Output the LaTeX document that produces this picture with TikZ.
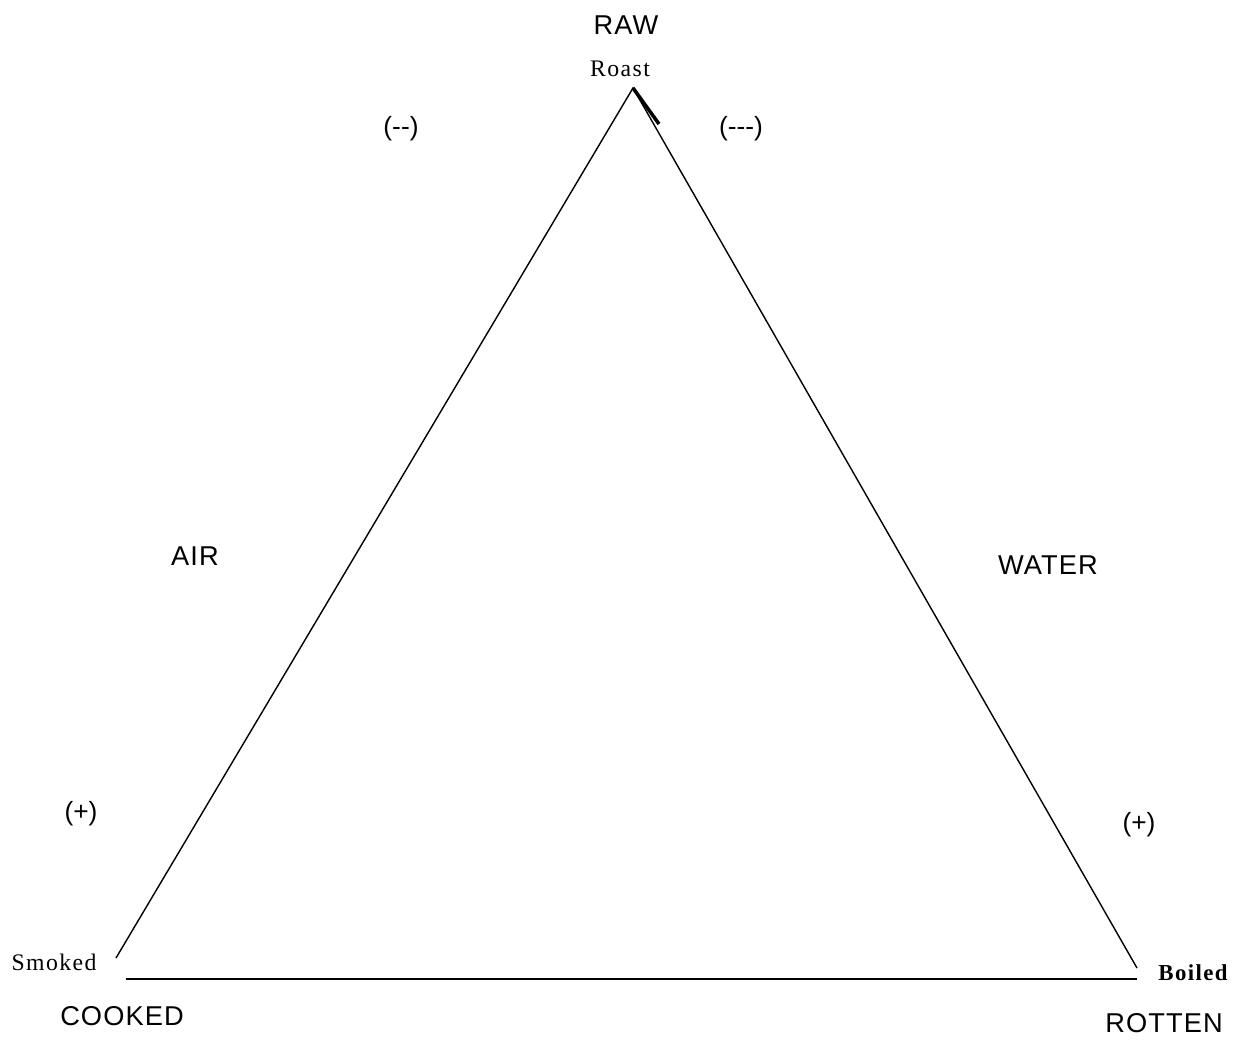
\documentclass[tikz,border=0pt]{standalone}
\usepackage{fontspec}
\newfontfamily\lsans[LetterSpace=4]{Liberation Sans}
\newfontfamily\lsign{Liberation Sans}
\newfontfamily\lserif[LetterSpace=6]{Liberation Serif}
\begin{document}
\begin{tikzpicture}[x=0.02cm,y=-0.02cm,
  big/.style={font=\lsans\fontsize{15.5}{17}\selectfont, inner sep=0pt},
  small/.style={font=\lserif\fontsize{13.5}{15}\selectfont, inner sep=0pt},
  sign/.style={font=\lsign\fontsize{15}{17}\selectfont, inner sep=0pt},
  edge/.style={line width=0.8pt, black}]
\useasboundingbox (0,0) rectangle (1242,1040);
\coordinate (top) at (633,88);
\coordinate (bl) at (116,958);
\coordinate (br) at (1137,968);
\coordinate (b1) at (126,979);
\coordinate (b2) at (1137,979);
\coordinate (thick) at (659,124);
\draw[edge] (bl) -- (top) -- (br);
\draw[edge] (b1) -- (b2);
\draw[line width=2pt] (top) -- (thick);
\node[big] (raw) at (626,25) {RAW};
\node[small] (roast) at (620,69) {Roast};
\node[sign] (mm) at (401,129) {(--)};
\node[sign] (mmm) at (741,129) {(---)};
\node[big] (air) at (195,556) {AIR};
\node[big] (water) at (1048,565) {WATER};
\node[sign] (p1) at (81,814) {(+)};
\node[sign] (p2) at (1139,825) {(+)};
\node[small] (smoked) at (54,962) {Smoked};
\node[small,font=\lserif\bfseries\fontsize{13}{15}\selectfont] (boiled) at (1193,973) {Boiled};
\node[big] (cooked) at (122,1016) {COOKED};
\node[big] (rotten) at (1164,1023) {ROTTEN};
\end{tikzpicture}
\end{document}
